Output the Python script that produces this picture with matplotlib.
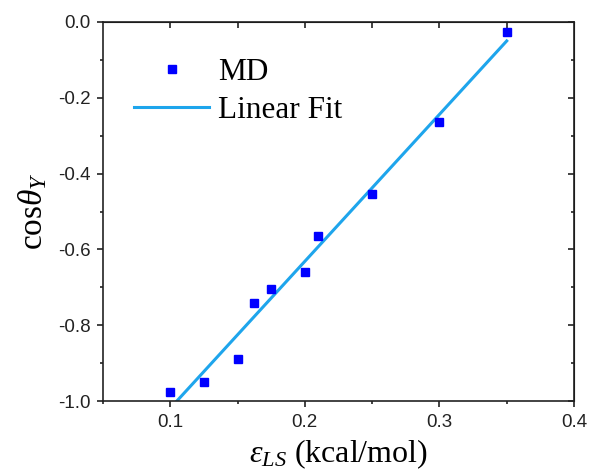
import matplotlib
matplotlib.use("Agg")
import matplotlib.pyplot as plt
from matplotlib.ticker import MultipleLocator

# Data
eps_ls = [0.1, 0.125, 0.15, 0.1625, 0.175, 0.2, 0.21, 0.25, 0.3, 0.35]
cos_theta = [-0.977, -0.951, -0.889, -0.742, -0.705, -0.659, -0.565, -0.454, -0.264, -0.026]
fit_x = [0.1, 0.35]
fit_y = [-1.019, -0.050]

xticks = [0.1, 0.2, 0.3, 0.4]
yticks = [0.0, -0.2, -0.4, -0.6, -0.8, -1.0]

plt.rcParams['mathtext.fontset'] = 'custom'
plt.rcParams['mathtext.rm'] = 'Liberation Serif'
plt.rcParams['mathtext.it'] = 'Liberation Serif:italic'
plt.rcParams['mathtext.bf'] = 'Liberation Serif:bold'

fig = plt.figure(figsize=(5.92, 4.73), dpi=100)
ax = fig.add_axes([0.174, 0.1522, 0.7956, 0.8013])

ax.plot(eps_ls, cos_theta, 's', color='#0000FF', markersize=6, label='MD', zorder=3)
ax.plot(fit_x, fit_y, '-', color='#1EA5EC', lw=2.2, label='Linear Fit', zorder=2)

ax.set_xlim(0.05, 0.4)
ax.set_ylim(-1.0, 0.0)
ax.set_xticks(xticks)
ax.set_yticks(yticks)
ax.set_xticklabels([f"{v:.1f}" for v in xticks])
ax.set_yticklabels([f"{v:.1f}" for v in yticks])
ax.xaxis.set_minor_locator(MultipleLocator(0.05))
ax.yaxis.set_minor_locator(MultipleLocator(0.1))

for s in ax.spines.values():
    s.set_linewidth(1.2)
    s.set_color('#222222')

ax.tick_params(which='both', direction='out', top=False, right=False, width=1.2, color='#222222',
               labelsize=13.5, labelcolor='#222222', pad=5)
ax.tick_params(which='major', length=4)
ax.tick_params(which='minor', length=2.5)
for lab in ax.get_xticklabels() + ax.get_yticklabels():
    lab.set_fontfamily('Liberation Sans')

# top/right inward ticks
axt = ax.secondary_xaxis('top')
axt.set_xticks([0.1, 0.15, 0.2, 0.25, 0.3, 0.35])
axt.tick_params(direction='in', length=4, width=1.2, labeltop=False, color='#222222')
axr = ax.secondary_yaxis('right')
axr.set_yticks([0.0, -0.2, -0.4, -0.6, -0.8, -1.0])
axr.yaxis.set_minor_locator(MultipleLocator(0.1))
axr.tick_params(which='major', direction='in', length=4, width=1.2, labelright=False, color='#222222')
axr.tick_params(which='minor', direction='in', length=2.5, width=1.2, color='#222222')

ax.set_xlabel(r'$\varepsilon_{LS}$ (kcal/mol)', fontfamily='Liberation Serif', fontsize=23, labelpad=5)
ax.set_ylabel(r'$\mathrm{cos}\theta_{Y}$', fontfamily='Liberation Serif', fontsize=24, labelpad=6)

leg = ax.legend(loc='upper left', bbox_to_anchor=(0.066, 0.905), frameon=False,
                prop={'family': 'Liberation Serif', 'size': 22.5},
                handlelength=2.4, handletextpad=0.3, labelspacing=0.3,
                borderpad=0, borderaxespad=0, numpoints=1)

fig.savefig('out.png', dpi=100)
